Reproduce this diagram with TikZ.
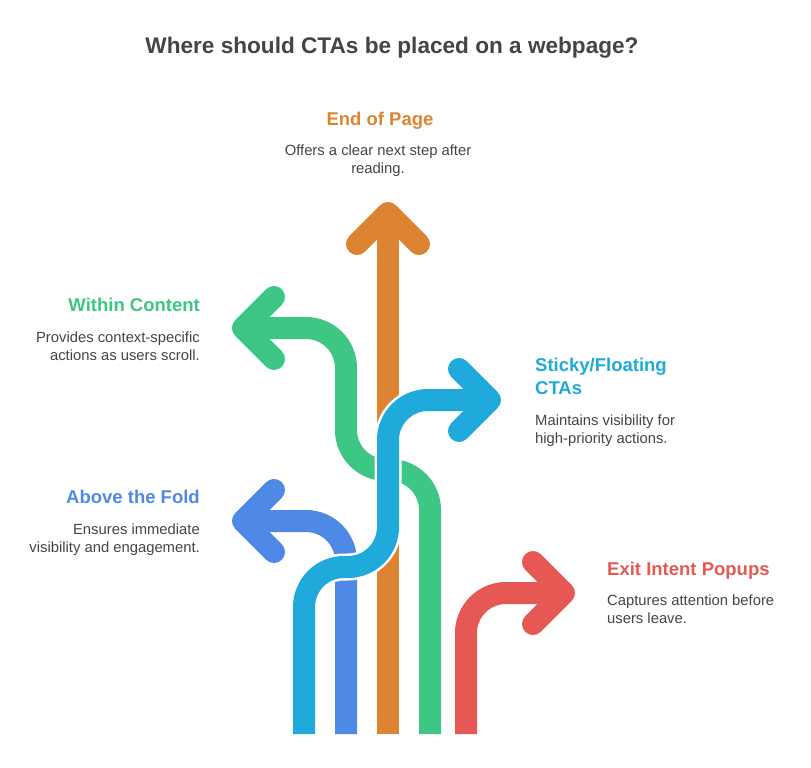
\documentclass[tikz,border=0pt]{standalone}
\usepackage{fontspec}
\setmainfont{Liberation Sans}
\usepackage{tikz}

\definecolor{ctaorange}{HTML}{DD8432}
\definecolor{ctagreen}{HTML}{3DC684}
\definecolor{ctacyan}{HTML}{1FAADB}
\definecolor{ctablue}{HTML}{4E8AE5}
\definecolor{ctared}{HTML}{E55854}
\definecolor{ctatext}{HTML}{444444}

\tikzset{
	gap/.style={white, line width=27pt, rounded corners=40pt},
	shaft/.style={line width=22pt, rounded corners=40pt},
	head/.style={line width=22pt, line cap=round, line join=round},
	heading/.style={font=\bfseries\fontsize{18.5}{23}\selectfont, inner sep=0pt},
	blurb/.style={font=\fontsize{14.8}{17.5}\selectfont, text=ctatext, inner sep=0pt}
}

\begin{document}
\begin{tikzpicture}[x=1pt, y=-1pt]
			\useasboundingbox (0,0) rectangle (811,768);
			\node[anchor=base, text=ctatext, font=\bfseries\fontsize{22.6}{28}\selectfont, inner sep=0pt] (title) at (392,54) {Where should CTAs be placed on a webpage?};

			% end of page
			\draw[gap] (388,734) -- (388,220);
			\draw[shaft, ctaorange] (388,734) -- (388,213);
			\draw[head, ctaorange] (357,244) -- (388,213) -- (419,244);

			% within content
			\draw[gap] (430,734) -- (430,470) -- (346,470) -- (346,328) -- (250,328);
			\draw[shaft, ctagreen] (430,734) -- (430,470) -- (346,470) -- (346,328) -- (243,328);
			\draw[head, ctagreen] (274,297) -- (243,328) -- (274,359);

			% above the fold
			\draw[shaft, ctablue] (346,734) -- (346,521) -- (243,521);
			\draw[head, ctablue] (274,490) -- (243,521) -- (274,552);

			% exit intent
			\draw[shaft, ctared] (466,734) -- (466,593) -- (564,593);
			\draw[head, ctared] (533,562) -- (564,593) -- (533,624);

			% sticky / floating
			\draw[gap] (304,734) -- (304,567) -- (388,567) -- (388,400) -- (484,400);
			\draw[shaft, ctacyan] (304,734) -- (304,567) -- (388,567) -- (388,400) -- (490,400);
			\draw[head, ctacyan] (459,369) -- (490,400) -- (459,431);

			\node[heading, text=ctaorange, anchor=base] (eop) at (380,125) {End of Page};
			\node[blurb, align=center, anchor=base] (eoptext) at (378,173) {Offers a clear next step after\\reading.};

			\node[heading, text=ctagreen, anchor=base east] (within) at (200,311) {Within Content};
			\node[blurb, align=right, anchor=base east] (withintext) at (200,360) {Provides context-specific\\actions as users scroll.};

			\node[heading, text=ctacyan, align=left, anchor=base west] (sticky) at (535,394) {Sticky/Floating\\CTAs};
			\node[blurb, align=left, anchor=base west] (stickytext) at (535,443) {Maintains visibility for\\high-priority actions.};

			\node[heading, text=ctablue, anchor=base east] (fold) at (200,503) {Above the Fold};
			\node[blurb, align=right, anchor=base east] (foldtext) at (200,552) {Ensures immediate\\visibility and engagement.};

			\node[heading, text=ctared, anchor=base west] (exit) at (607,575) {Exit Intent Popups};
			\node[blurb, align=left, anchor=base west] (exittext) at (607,623) {Captures attention before\\users leave.};
		\end{tikzpicture}
\end{document}
